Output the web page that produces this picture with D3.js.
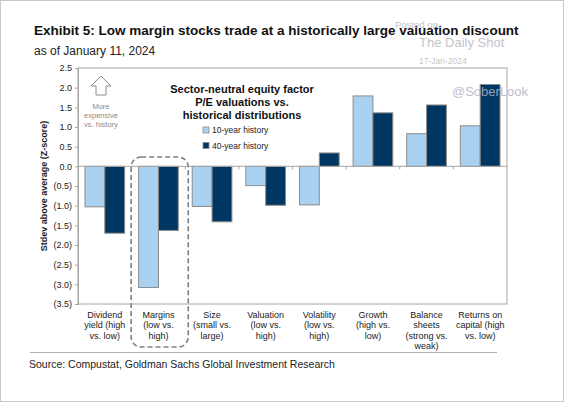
<!DOCTYPE html>
<html><head><meta charset="utf-8">
<script src="https://cdn.jsdelivr.net/npm/d3@7"></script>
<style>
html,body{margin:0;padding:0;background:#fff;}
svg{display:block;font-family:"Liberation Sans",Arial,sans-serif;}
</style></head>
<body>
<svg id="chart" width="564" height="402"></svg>
<script>
const categories = [
  ["Dividend","yield (high","vs. low)"],
  ["Margins","(low vs.","high)"],
  ["Size","(small vs.","large)"],
  ["Valuation","(low vs.","high)"],
  ["Volatility","(low vs.","high)"],
  ["Growth","(high vs.","low)"],
  ["Balance","sheets","(strong vs.","weak)"],
  ["Returns on","capital (high","vs. low)"]
];
const tenYear   = [-1.03, -3.08, -1.02, -0.49, -0.98, 1.79, 0.83, 1.03];
const fortyYear = [-1.70, -1.63, -1.41, -0.99, 0.34, 1.36, 1.56, 2.08];
const seriesNames = ["10-year history", "40-year history"];
const yTicks = [2.5, 2.0, 1.5, 1.0, 0.5, 0.0, -0.5, -1.0, -1.5, -2.0, -2.5, -3.0, -3.5];

const colors = ["#a9d1f1", "#003662"];
const svg = d3.select("#chart");

// outer frame
svg.append("rect").attr("x",0.5).attr("y",0.5).attr("width",563).attr("height",401)
  .attr("fill","none").attr("stroke","#c8c8c8");

const L = 78, R = 507, T = 68, B = 304;
const y = d3.scaleLinear().domain([-3.5, 2.5]).range([B, T]);
const x0 = d3.scaleBand().domain(d3.range(categories.length)).range([L, R]).paddingInner(0.26).paddingOuter(0.13);
const x1 = d3.scaleBand().domain([0,1]).range([0, x0.bandwidth()]);
const xb = d3.scaleBand().domain(d3.range(categories.length)).range([L, R]);

// title
svg.append("text").attr("x",34).attr("y",35).attr("font-size",13.5).attr("font-weight","bold").attr("fill","#111")
  .text("Exhibit 5: Low margin stocks trade at a historically large valuation discount");
svg.append("text").attr("x",34).attr("y",55).attr("font-size",12).attr("fill","#222")
  .text("as of January 11, 2024");

// watermark
svg.append("text").attr("x",395).attr("y",28).attr("font-size",9.5).attr("fill","#c4c4cc").text("Posted on");
svg.append("text").attr("x",419).attr("y",47).attr("font-size",13).attr("fill","#c4c4cc").text("The Daily Shot");
svg.append("text").attr("x",419).attr("y",64).attr("font-size",8.5).attr("fill","#c4c4cc").text("17-Jan-2024");

// plot box
svg.append("rect").attr("x",L).attr("y",T).attr("width",R-L).attr("height",B-T)
  .attr("fill","none").attr("stroke","#a6a6a6").attr("stroke-width",1);

// y axis
const yAxis = d3.axisLeft(y).tickValues(yTicks).tickSize(3).tickFormat(v => {
  const s = Math.abs(v).toFixed(1);
  return v < 0 ? "(" + s + ")" : s;
});
const ya = svg.append("g").attr("transform",`translate(${L},0)`).call(yAxis);
ya.select(".domain").attr("stroke","#a6a6a6");
ya.selectAll(".tick line").attr("stroke","#a6a6a6");
ya.selectAll(".tick text").attr("font-size",9).attr("fill","#222").attr("x",-6).attr("font-family","Liberation Sans, Arial, sans-serif");

svg.append("text").attr("transform",`translate(47,${(T+B)/2}) rotate(-90)`)
  .attr("text-anchor","middle").attr("font-size",9).attr("font-weight","bold").attr("fill","#222")
  .text("Stdev above average (Z-score)");

// bars
const groups = svg.append("g").selectAll("g").data(categories).join("g")
  .attr("transform",(d,i)=>`translate(${x0(i)},0)`);
groups.each(function(d,i){
  const vals = [tenYear[i], fortyYear[i]];
  d3.select(this).selectAll("rect").data(vals).join("rect")
    .attr("x",(v,j)=>x1(j)).attr("width",x1.bandwidth())
    .attr("y",v=>y(Math.max(0,v))).attr("height",v=>Math.abs(y(v)-y(0)))
    .attr("fill",(v,j)=>colors[j]).attr("stroke","#8c8c8c").attr("stroke-width",1);
});

// zero line + category ticks
svg.append("line").attr("x1",L).attr("x2",R).attr("y1",y(0)).attr("y2",y(0)).attr("stroke","#a6a6a6");
svg.append("g").selectAll("line").data(d3.range(1,categories.length)).join("line")
  .attr("x1",i=>xb(i)).attr("x2",i=>xb(i)).attr("y1",y(0)).attr("y2",y(0)+3).attr("stroke","#a6a6a6");

// category labels
const cl = svg.append("g").selectAll("text").data(categories).join("text")
  .attr("text-anchor","middle").attr("font-size",9).attr("fill","#222")
  .attr("x",(d,i)=>xb(i)+xb.bandwidth()/2).attr("y",318);
cl.selectAll("tspan").data(d=>d).join("tspan")
  .attr("x",function(){return this.parentNode.getAttribute("x");})
  .attr("dy",(t,k)=>k===0?0:10.3).text(t=>t);

// dashed highlight around Margins
svg.append("rect").attr("x",xb(1)-0.5).attr("y",157).attr("width",xb.bandwidth()+3.5).attr("height",190)
  .attr("rx",10).attr("ry",10).attr("fill","none").attr("stroke","#7f7f7f")
  .attr("stroke-width",1.6).attr("stroke-dasharray","5,3");

// arrow
const ax = 101;
svg.append("path").attr("d",
  `M${ax},76 L${ax+10},86 L${ax+5},86 L${ax+5},95 L${ax-5},95 L${ax-5},86 L${ax-10},86 Z`)
  .attr("fill","#fff").attr("stroke","#8c8c8c").attr("stroke-width",1);
svg.append("text").attr("text-anchor","middle").attr("font-size",7.5).attr("fill","#8c8c8c")
  .selectAll("tspan").data(["More","expensive","vs. history"]).join("tspan")
  .attr("x",ax).attr("y",(d,i)=>109+i*9).text(d=>d);

// legend title
svg.append("text").attr("text-anchor","middle").attr("font-size",11).attr("font-weight","bold").attr("fill","#111")
  .selectAll("tspan").data(["Sector-neutral equity factor","P/E valuations vs.","historical distributions"]).join("tspan")
  .attr("x",242).attr("y",(d,i)=>93+i*13).text(d=>d);

const lg = svg.append("g").selectAll("g").data(seriesNames).join("g")
  .attr("transform",(d,i)=>`translate(203,${127+i*15.5})`);
lg.append("rect").attr("width",6).attr("height",6).attr("fill",(d,i)=>colors[i]).attr("stroke","#8c8c8c").attr("stroke-width",0.8);
lg.append("text").attr("x",9).attr("y",6).attr("font-size",8.5).attr("fill","#222").text(d=>d);

// SoberLook watermark
svg.append("text").attr("x",452).attr("y",96).attr("font-size",13).attr("fill","#b4b4cc").attr("opacity",0.85).text("@SoberLook");

// footer
svg.append("line").attr("x1",30).attr("x2",497).attr("y1",352.5).attr("y2",352.5).attr("stroke","#b0b0b0").attr("stroke-width",1);
svg.append("text").attr("x",29).attr("y",368).attr("font-size",10.5).attr("fill","#222")
  .text("Source: Compustat, Goldman Sachs Global Investment Research");
</script>
</body></html>
